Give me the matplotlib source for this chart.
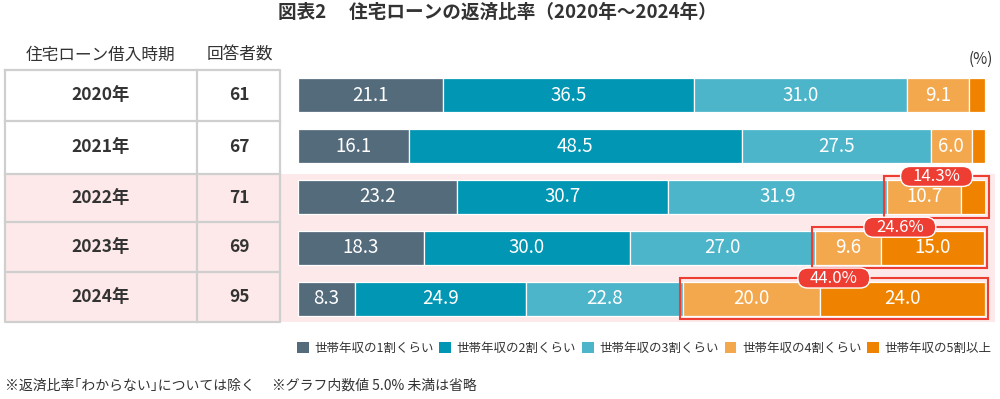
import matplotlib
matplotlib.use('Agg')
import matplotlib.pyplot as plt
from matplotlib.patches import Rectangle, FancyBboxPatch
import numpy as np

plt.rcParams['font.family'] = ['Noto Sans CJK JP', 'DejaVu Sans']

# ---- data ----
title = '図表2\u3000 住宅ローンの返済比率（2020年～2024年）'
col_headers = ['住宅ローン借入時期', '回答者数']
years = ['2020年', '2021年', '2022年', '2023年', '2024年']
respondents = [61, 67, 71, 69, 95]
categories = ['世帯年収の1割くらい', '世帯年収の2割くらい', '世帯年収の3割くらい',
              '世帯年収の4割くらい', '世帯年収の5割以上']
share_10 = [21.1, 16.1, 23.2, 18.3, 8.3]
share_20 = [36.5, 48.5, 30.7, 30.0, 24.9]
share_30 = [31.0, 27.5, 31.9, 27.0, 22.8]
share_40 = [9.1, 6.0, 10.7, 9.6, 20.0]
share_50 = [2.3, 1.9, 3.6, 15.0, 24.0]
highlight_rows = [2, 3, 4]
highlight_labels = ['14.3%', '24.6%', '44.0%']
footnote = '※返済比率\uff62わからない\uff63については除く\u3000 ※グラフ内数値 5.0% 未満は省略'

colors = ['#546b7c', '#0096b4', '#4db5c9', '#f3a84e', '#ef8300']
pink = '#fde9e9'
red = '#ee3d33'
grid = '#cfcfcf'
txt = '#333333'

series = [share_10, share_20, share_30, share_40, share_50]

fig = plt.figure(figsize=(10, 3.99), dpi=100)

bg = fig.add_axes([0, 0, 1, 1], zorder=0)
bg.set_xlim(0, 1000)
bg.set_ylim(399, 0)
bg.axis('off')

# pink highlight band for rows 2022-2024
bg.add_patch(Rectangle((5, 174), 990, 148, fc=pink, ec='none', zorder=0))

# table grid
row_edges = [70, 121, 174, 222, 272, 322]
bg.plot([5, 280, 280, 5, 5], [70, 70, 322, 322, 70], color=grid, lw=1.6, zorder=1)
bg.plot([197, 197], [70, 322], color=grid, lw=1.6, zorder=1)
for yy in row_edges[1:-1]:
    bg.plot([5, 280], [yy, yy], color=grid, lw=1.6, zorder=1)

bg.text(100, 55, col_headers[0], ha='center', va='center', fontsize=12, color=txt)
bg.text(240, 55, col_headers[1], ha='center', va='center', fontsize=12, color=txt)
for i, (yr, n) in enumerate(zip(years, respondents)):
    yc = (row_edges[i] + row_edges[i + 1]) / 2
    bg.text(101, yc, yr, ha='center', va='center', fontsize=12.5, color=txt, fontweight='bold')
    bg.text(239, yc, str(n), ha='center', va='center', fontsize=12.5, color=txt, fontweight='bold')

bg.text(497, 12, title, ha='center', va='center', fontsize=13.4, color=txt, fontweight='bold')
bg.text(981, 59, '(%)', ha='center', va='center', fontsize=11, color=txt)
bg.text(5, 386, footnote, ha='left', va='center', fontsize=10, color=txt)

# bar axes
ax = fig.add_axes([0.298, 1 - 324 / 399, 0.687, 254 / 399], zorder=2)
ax.patch.set_alpha(0)
ax.set_xlim(0, 100)
ax.set_ylim(4.5, -0.5)
ax.axis('off')

ypos = np.arange(len(years))
bar_h = 0.67
left = np.zeros(len(years))
handles = []
for s, c, lab in zip(series, colors, categories):
    vals = np.array(s)
    h = ax.barh(ypos, vals, left=left, height=bar_h, color=c, edgecolor='white',
                linewidth=0.9, label=lab)
    handles.append(h)
    for y, v, l0 in zip(ypos, vals, left):
        if v >= 5.0:
            ax.text(l0 + v / 2, y, f'{v:.1f}', ha='center', va='center',
                    color='white', fontsize=13.5)
    left = left + vals

# highlight boxes
ov = fig.add_axes([0, 0, 1, 1], zorder=3)
ov.patch.set_alpha(0)
ov.set_xlim(0, 1000)
ov.set_ylim(399, 0)
ov.axis('off')

pad_x, pad_y = 0.45, 0.07
for r, lab in zip(highlight_rows, highlight_labels):
    x0 = share_10[r] + share_20[r] + share_30[r]
    x1 = x0 + share_40[r] + share_50[r]
    ax.add_patch(Rectangle((x0 - pad_x, r - bar_h / 2 - pad_y), (x1 - x0) + 2 * pad_x,
                           bar_h + 2 * pad_y, fill=False, ec=red, lw=1.5, clip_on=False, zorder=5))
    disp = ax.transData.transform(((x0 + x1) / 2, r - bar_h / 2 - pad_y))
    px, py = ov.transData.inverted().transform(disp)
    ov.add_patch(FancyBboxPatch((px - 36, py - 10), 72, 20,
                                boxstyle='round,pad=0,rounding_size=10',
                                fc=red, ec='white', lw=1.0, zorder=6))
    ov.text(px, py, lab, ha='center', va='center', color='white', fontsize=12, zorder=7)

leg = ax.legend(handles=handles, ncol=5, loc='center right',
                bbox_to_anchor=(1.017, -0.095), frameon=False, fontsize=9,
                handlelength=0.95, handleheight=0.95, handletextpad=0.45,
                columnspacing=0.45, borderaxespad=0)
for t in leg.get_texts():
    t.set_color(txt)
for p in leg.get_patches():
    p.set_edgecolor('none')

fig.savefig('out.png', dpi=100)
